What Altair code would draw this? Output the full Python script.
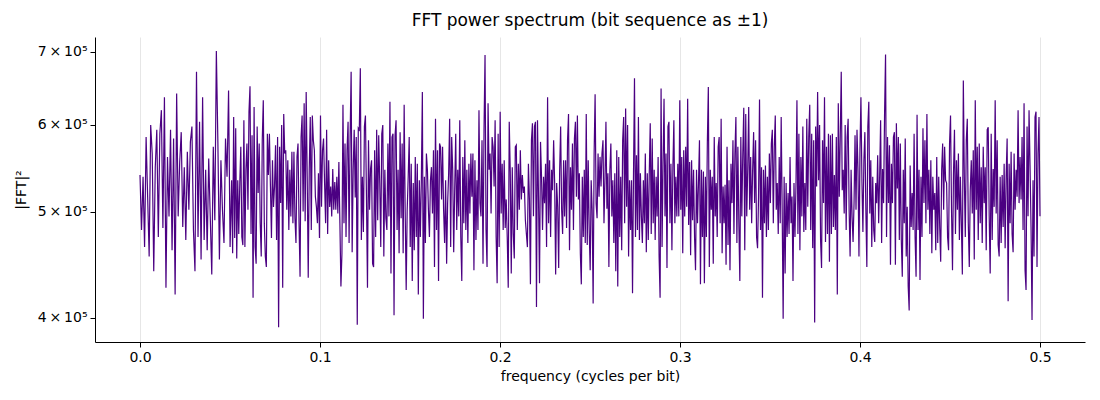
import altair as alt
import numpy as np
import pandas as pd

title_text = "FFT power spectrum (bit sequence as ±1)"
x_title = "frequency (cycles per bit)"
y_title = "|FFT|²"
x_ticks = [0.0, 0.1, 0.2, 0.3, 0.4, 0.5]
y_ticks = [400000, 500000, 600000, 700000]

# frequency at the boundaries of each block of read-off values
seg_edges = [0.0, 0.0509, 0.0963, 0.1417, 0.1872, 0.2326, 0.2780,
             0.3234, 0.3677, 0.4131, 0.4585, 0.5]

# |FFT|^2 values in thousands, block by block
seg1 = [540, 481, 538, 464, 585, 516, 455, 600, 565, 441, 549, 594, 474, 589, 619, 483, 636, 426, 561, 495,
        594, 461, 583, 420, 641, 495, 555, 591, 484, 549, 471, 567, 502, 579, 598, 481, 441, 671, 474, 604,
        452, 636, 471, 546, 461, 559, 495, 438, 573, 491, 701, 579, 452, 557, 502, 468, 583, 538, 645, 464]
seg2 = [534, 458, 610, 473, 596, 453, 534, 477, 531, 573, 474, 466, 606, 464, 546, 577, 502, 617, 651, 477,
        587, 417, 623, 464, 448, 598, 520, 577, 488, 455, 581, 632, 488, 455, 445, 589, 540, 589, 527, 473,
        557, 505, 527, 575, 471, 585, 392, 573, 509, 600, 426, 614, 565, 569, 502, 557, 481, 546, 495, 567,
        488, 567, 493, 468, 561, 577, 488, 436, 585, 612, 500, 628, 490, 643, 538, 435, 546, 610, 481, 612]
seg3 = [581, 569, 516, 505, 488, 542, 473, 612, 505, 569, 583, 531, 488, 594, 477, 557, 505, 527, 495, 547,
        502, 532, 502, 538, 498, 555, 488, 427, 458, 626, 488, 577, 474, 569, 604, 468, 585, 671, 459, 546,
        594, 515, 585, 394, 596, 594, 676, 471, 538, 479, 598, 612, 516, 426, 581, 502, 547, 557, 448, 445,
        569, 474, 594, 491, 587, 531, 464, 589, 600, 455, 546, 493, 481, 577, 495, 630, 439, 585, 589, 402]
seg4 = [587, 606, 481, 546, 458, 591, 493, 577, 458, 626, 502, 424, 502, 538, 585, 464, 553, 432, 531, 461,
        561, 474, 553, 420, 534, 474, 534, 643, 399, 538, 468, 565, 546, 502, 474, 534, 549, 498, 569, 445,
        608, 481, 569, 432, 577, 573, 513, 573, 502, 468, 534, 448, 509, 542, 608, 464, 585, 546, 459, 525,
        589, 481, 546, 495, 606, 474, 432, 561, 488, 581, 481, 546, 468, 553, 498, 565, 516, 565, 442, 557, 471]
seg5 = [534, 481, 619, 509, 495, 581, 448, 594, 695, 481, 445, 628, 546, 565, 498, 585, 573, 527, 606, 474,
        430, 589, 464, 617, 498, 553, 481, 557, 483, 513, 474, 426, 604, 544, 439, 549, 477, 453, 573, 575,
        481, 553, 502, 569, 513, 540, 520, 527, 491, 477, 464, 553, 513, 429, 581, 602, 495, 598, 604, 409,
        606, 516, 430, 579, 538, 481, 538, 509, 553, 464, 636, 488, 557, 474, 546, 523, 581, 531, 438, 531, 505]
seg6 = [444, 546, 598, 502, 477, 557, 495, 557, 483, 581, 614, 461, 549, 502, 577, 481, 583, 604, 516, 612,
        513, 542, 458, 429, 538, 474, 546, 468, 614, 466, 557, 481, 442, 534, 502, 412, 565, 640, 509, 493,
        565, 516, 561, 527, 565, 581, 488, 534, 604, 503, 542, 445, 546, 577, 495, 534, 468, 542, 441, 569,
        427, 561, 474, 538, 461, 581, 610, 488, 621, 505, 600, 455, 534, 481, 534, 421, 542, 662, 474, 563,
        481, 610, 471]
seg7 = [542, 495, 468, 534, 488, 565, 459, 542, 471, 542, 602, 477, 583, 488, 546, 471, 538, 495, 561, 455,
        417, 648, 464, 553, 634, 495, 565, 444, 598, 604, 488, 553, 461, 549, 606, 488, 538, 495, 553, 495,
        632, 502, 561, 458, 569, 495, 573, 505, 634, 486, 555, 456, 557, 491, 546, 474, 442, 546, 488, 531,
        581, 429, 546, 474, 544, 430, 538, 474, 579, 650, 445, 546, 502, 538, 448, 585, 495, 531, 474, 573,
        585, 488, 608]
seg8 = [458, 527, 488, 529, 447, 573, 466, 534, 442, 553, 509, 581, 477, 565, 610, 468, 573, 488, 432, 585,
        495, 565, 622, 461, 614, 495, 546, 623, 502, 561, 488, 546, 591, 509, 581, 474, 463, 516, 633, 481,
        549, 417, 546, 488, 551, 474, 538, 481, 565, 509, 577, 594, 488, 573, 612, 502, 531, 477, 561, 488,
        610, 502, 399, 538, 439, 531, 474, 520, 477, 561, 488, 516, 432, 531, 474, 527, 632, 477, 589, 461, 561]
seg9 = [495, 598, 479, 531, 481, 608, 505, 585, 626, 481, 589, 463, 581, 396, 598, 527, 643, 534, 600, 471,
        444, 581, 509, 636, 469, 573, 477, 589, 450, 587, 477, 589, 484, 540, 481, 585, 420, 628, 516, 585,
        671, 523, 546, 498, 600, 481, 585, 608, 502, 455, 546, 495, 469, 509, 587, 502, 594, 546, 455, 569,
        636, 534, 479, 557, 591, 502, 445, 598, 630, 498, 557, 464, 538, 481, 469, 531, 509, 563, 488, 538,
        606, 468, 547]
seg10 = [509, 614, 696, 474, 585, 509, 575, 447, 553, 509, 585, 591, 447, 602, 525, 585, 471, 577, 471, 436,
         546, 488, 583, 455, 505, 427, 406, 551, 484, 520, 481, 589, 474, 436, 613, 481, 546, 433, 538, 474,
         596, 509, 581, 488, 614, 502, 546, 477, 557, 458, 538, 502, 520, 461, 561, 468, 538, 484, 450, 546,
         577, 502, 573, 534, 531, 474, 461, 577, 612, 502, 442, 542, 594, 477, 557, 502, 565, 471, 538, 488,
         438, 659, 538]
seg11 = [474, 581, 608, 488, 445, 523, 557, 498, 569, 452, 632, 502, 573, 471, 577, 488, 549, 468, 573, 509,
         549, 461, 594, 597, 495, 439, 589, 471, 547, 505, 632, 498, 581, 466, 455, 538, 468, 540, 484, 553,
         463, 538, 583, 414, 553, 488, 567, 477, 459, 565, 502, 546, 516, 619, 509, 561, 513, 585, 481, 628,
         442, 424, 598, 495, 619, 551, 484, 398, 534, 455, 610, 617, 445, 565, 610, 495]

segments = [seg1, seg2, seg3, seg4, seg5, seg6, seg7, seg8, seg9, seg10, seg11]

freq = []
power = []
for i, seg in enumerate(segments):
    a, b = seg_edges[i], seg_edges[i + 1]
    last = i == len(segments) - 1
    freq.extend(np.linspace(a, b, len(seg), endpoint=last).tolist())
    power.extend([v * 1000 for v in seg])

df = pd.DataFrame({"f": freq, "p": power})

FONT = "DejaVu Sans"

chart = alt.Chart(df).mark_line(color="#4B0082", strokeWidth=1.2).encode(
    x=alt.X("f:Q",
            scale=alt.Scale(domain=[-0.025, 0.525], nice=False, zero=False),
            axis=alt.Axis(values=x_ticks, format=".1f", title=x_title, grid=True,
                          gridColor="#e6e6e6", gridWidth=1, labelPadding=3, titlePadding=5)),
    y=alt.Y("p:Q",
            scale=alt.Scale(type="log", domain=[380000, 722000], nice=False),
            axis=alt.Axis(values=y_ticks, title=y_title, grid=False,
                          labelExpr="round(datum.value / 100000) + '\u2009×\u200910⁵'",
                          labelPadding=3, titlePadding=9)),
).properties(
    width=990,
    height=305,
    autosize=alt.AutoSizeParams(type="none"),
    padding={"left": 87, "top": 29, "right": 7, "bottom": 45},
    title=alt.TitleParams(title_text, fontSize=17, font=FONT, fontWeight="normal",
                          anchor="middle", color="black", offset=7),
).configure_view(
    stroke=None
).configure_axis(
    labelFont=FONT, titleFont=FONT, labelFontSize=14, titleFontSize=14,
    labelColor="black", titleColor="black", titleFontWeight="normal",
    domainColor="black", tickColor="black", tickSize=5, domainWidth=1, tickWidth=1,
)

chart.save("out.html", embed_options={"renderer": "svg", "actions": False})
